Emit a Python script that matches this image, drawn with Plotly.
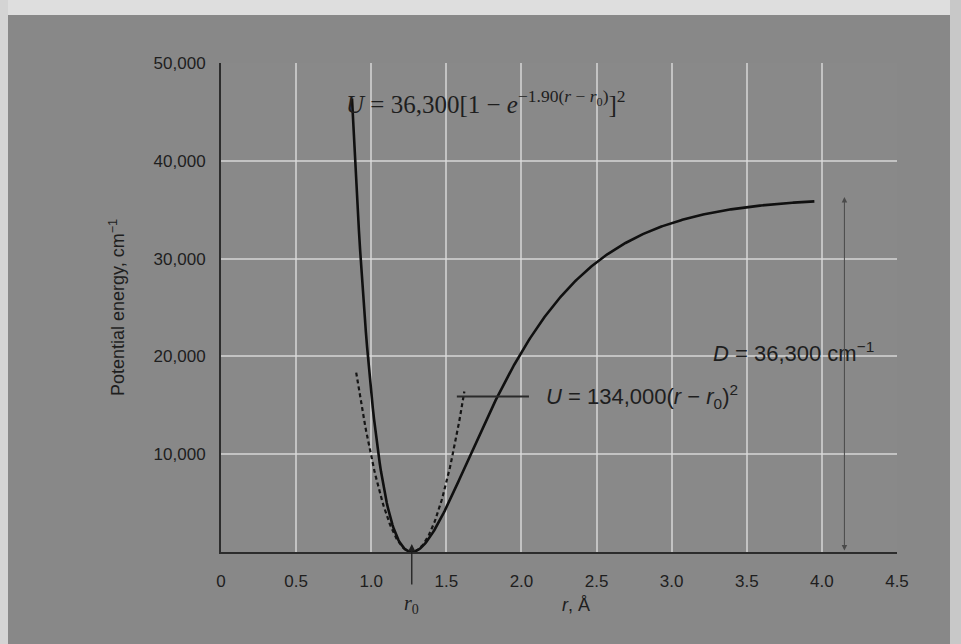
import numpy as np
import plotly.graph_objects as go

# Morse potential for HCl and its harmonic approximation (energies in cm^-1, r in angstrom)
D_E = 36300.0          # dissociation energy
A_MORSE = 1.90         # Morse exponent, 1/angstrom
R0 = 1.27              # equilibrium bond length
K_HARM = 134000.0      # harmonic coefficient

r_morse = np.linspace(0.872, 3.95, 400)
u_morse = D_E * (1 - np.exp(-A_MORSE * (r_morse - R0))) ** 2

r_harm = np.linspace(0.90, 1.62, 120)
u_harm = K_HARM * (r_harm - R0) ** 2

x_ticks = [0, 0.5, 1.0, 1.5, 2.0, 2.5, 3.0, 3.5, 4.0, 4.5]
x_labels = ["0", "0.5", "1.0", "1.5", "2.0", "2.5", "3.0", "3.5", "4.0", "4.5"]
y_ticks = [10000, 20000, 30000, 40000, 50000]
y_labels = ["10,000", "20,000", "30,000", "40,000", "50,000"]

FONT = "Liberation Sans, Arial, sans-serif"
SERIF = "Liberation Serif, Times New Roman, serif"
INK = "#1e1e1e"

PLOT_H = 489.0  # plot-area height in px, used to place labels below the axis


def below_axis(px):
    """Paper y for a point px pixels below the x axis."""
    return -px / PLOT_H


fig = go.Figure()
fig.add_trace(go.Scatter(x=r_harm, y=u_harm, mode="lines",
                         line=dict(color="#151515", width=2.2, dash="4px,3px"),
                         hoverinfo="skip", showlegend=False))
fig.add_trace(go.Scatter(x=r_morse, y=u_morse, mode="lines",
                         line=dict(color="#101010", width=2.6),
                         hoverinfo="skip", showlegend=False))

annotations = [
    dict(x=0.82, y=46000, xref="x", yref="y", xanchor="left", yanchor="middle",
         text="<i>U</i> = 36,300[1 − <i>e</i><sup>−1.90(<i>r</i> − <i>r</i><sub>0</sub>)</sup>]<sup>2</sup>",
         showarrow=False, font=dict(family=SERIF, size=25, color=INK)),
    dict(x=2.15, y=15900, xref="x", yref="y", xanchor="left", yanchor="middle",
         text="<i>U</i> = 134,000(<i>r</i> − <i>r</i><sub>0</sub>)<sup>2</sup>",
         showarrow=False, font=dict(family=FONT, size=22, color=INK)),
    dict(x=3.26, y=20500, xref="x", yref="y", xanchor="left", yanchor="middle",
         text="<i>D</i> = 36,300 cm<sup>−1</sup>",
         showarrow=False, font=dict(family=FONT, size=22, color=INK)),
    dict(x=R0, y=below_axis(-8), xref="x", yref="paper", ax=0, ay=42,
         text="", showarrow=True, arrowhead=2, arrowsize=1.1, arrowwidth=1.3,
         arrowcolor=INK),
    dict(x=R0, y=below_axis(38), xref="x", yref="paper", yanchor="top",
         text="<i>r</i><sub>0</sub>", showarrow=False,
         font=dict(family=SERIF, size=20, color=INK)),
    dict(x=2.36, y=below_axis(41), xref="x", yref="paper", yanchor="top",
         text="<i>r</i>, Å", showarrow=False,
         font=dict(family=FONT, size=18, color=INK)),
    # vertical double arrow marking the well depth
    dict(x=4.15, y=D_E, xref="x", yref="y", ax=4.15, ay=0, axref="x", ayref="y",
         text="", showarrow=True, arrowhead=2, arrowside="end+start",
         arrowsize=1.1, arrowwidth=1.0, arrowcolor="#4a4a4a"),
]

shapes = [
    # leader from the dashed curve to its equation
    dict(type="line", xref="x", yref="y", x0=1.57, x1=2.05, y0=15900, y1=15900,
         line=dict(color="#2a2a2a", width=2)),
    # light outer border of the page
    dict(type="rect", xref="paper", yref="paper", x0=-0.40, x1=1.20,
         y0=(552 - 15) / PLOT_H, y1=1.30, fillcolor="#dedede", line_width=0,
         layer="above"),
    dict(type="rect", xref="paper", yref="paper", x0=-0.40, x1=(8 - 221) / 676,
         y0=-0.30, y1=1.30, fillcolor="#d4d4d4", line_width=0, layer="above"),
    dict(type="rect", xref="paper", yref="paper", x0=(950 - 221) / 676, x1=1.20,
         y0=-0.30, y1=1.30, fillcolor="#c8c8c8", line_width=0, layer="above"),
]

fig.update_layout(
    width=961, height=644,
    margin=dict(l=221, r=64, t=63, b=92),
    paper_bgcolor="#888888",
    plot_bgcolor="#898989",
    font=dict(family=FONT, size=17, color=INK),
    annotations=annotations,
    shapes=shapes,
    showlegend=False,
)
fig.update_xaxes(
    range=[0, 4.5], tickvals=x_ticks, ticktext=x_labels,
    showgrid=True, gridcolor="rgba(220,220,220,0.7)", gridwidth=2,
    showline=True, linecolor="#2c2c2c", linewidth=2,
    ticks="", ticklabelstandoff=13, zeroline=False,
    tickfont=dict(family=FONT, size=17, color=INK),
)
fig.update_yaxes(
    range=[0, 50000], tickvals=y_ticks, ticktext=y_labels,
    showgrid=True, gridcolor="rgba(220,220,220,0.7)", gridwidth=2,
    showline=True, linecolor="#2c2c2c", linewidth=2,
    ticks="", ticklabelstandoff=10, zeroline=False,
    title=dict(text="Potential energy, cm<sup>−1</sup>", standoff=24,
               font=dict(family=FONT, size=18, color=INK)),
    tickfont=dict(family=FONT, size=17, color=INK),
)

fig.write_html("out.html")
